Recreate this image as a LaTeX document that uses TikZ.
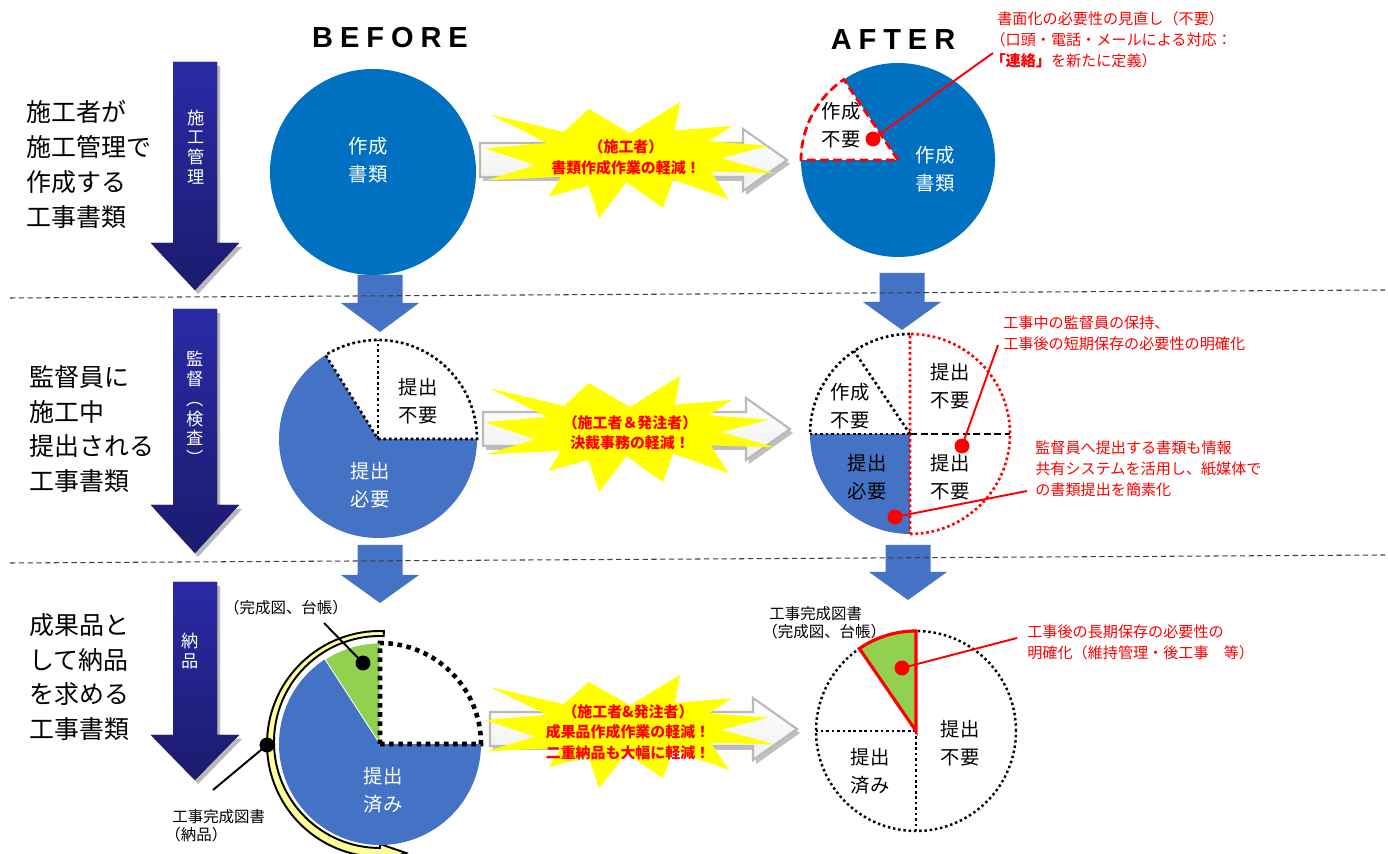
\documentclass[tikz,border=0pt]{standalone}
\usepackage{fontspec}
\setmainfont{Noto Sans CJK JP}
\newfontfamily\titlefont[LetterSpace=24]{Liberation Sans}
\usetikzlibrary{calc}

\definecolor{docblue}{HTML}{0070C0}
\definecolor{pieblue}{HTML}{4472C4}
\definecolor{piegreen}{HTML}{92D050}
\definecolor{navytop}{HTML}{2A2AA6}
\definecolor{navybot}{HTML}{1B1B6E}
\definecolor{ringyellow}{HTML}{FFFF99}
\definecolor{boomyellow}{HTML}{FFFF00}
\definecolor{notered}{HTML}{FF0000}

\newcommand\lpar{\kern-0.45em（}

\tikzset{
  sectionline/.style={black!75, line width=0.6pt, dash pattern=on 3pt off 2pt},
  titletext/.style={font=\titlefont\bfseries\fontsize{16.5}{16.5}\selectfont, inner sep=0pt},
  sidetext/.style={font=\fontsize{14.2}{19.8}\selectfont, align=left, anchor=west, inner sep=0pt},
  vtext/.style={font=\fontsize{9.8}{11.3}\selectfont, text=white, align=center, inner sep=0pt},
  pietext/.style={font=\fontsize{11}{15.8}\selectfont, align=center, inner sep=0pt},
  notetext/.style={font=\fontsize{8.6}{11.8}\selectfont, text=notered, align=left, anchor=west, inner sep=0pt},
  smalltext/.style={font=\fontsize{8.8}{10.4}\selectfont, align=left, inner sep=0pt},
  boomtext/.style={font=\bfseries\fontsize{8.5}{11.6}\selectfont, text=notered, align=center, inner sep=0pt},
  reddot/.style={circle, fill=notered, inner sep=0pt, minimum size=8.5pt},
  blackdot/.style={circle, fill=black, inner sep=0pt, minimum size=8.5pt},
  redline/.style={notered, line width=1.1pt},
  blackline/.style={black, line width=1.1pt},
  piedots/.style={black, line width=1.5pt, dash pattern=on 1.5pt off 1.6pt},
  reddots/.style={notered, line width=1.5pt, dash pattern=on 1.5pt off 1.6pt},
  bigdots/.style={black, line width=2.6pt, dash pattern=on 2.6pt off 2.6pt},
  boomshape/.pic={
    \fill[boomyellow] (50,26.9) -- (67.2,0) -- (65.5,24.7) -- (85.1,20.6) -- (77.3,33.9)
      -- (97.7,37.7) -- (81.5,48.5) -- (100,61.5) -- (77.9,59.9) -- (84.0,83.8)
      -- (64.9,66.9) -- (61.3,91.4) -- (48.8,69.1) -- (39.3,100) -- (35.7,72.3)
      -- (22.0,81.6) -- (26.2,64.5) -- (0.6,67.5) -- (17.2,54.5) -- (0,39.9)
      -- (21.4,35.3) -- (1.7,10.6) -- (27.2,25.8) -- (35.8,6.0) -- cycle;
  }
}

\begin{document}
\begin{tikzpicture}[x=0.02cm, y=0.02cm]
  \useasboundingbox[fill=white] (0,0) rectangle (1388,854);

  % headings
  \node[titletext] (before) at (390,816) {BEFORE};
  \node[titletext] (after) at (893,814) {AFTER};

  % left column
  \node[sidetext] (row1) at (26,689.5) {施工者が\\施工管理で\\作成する\\工事書類};
  \node[sidetext] (row2) at (29,425) {監督員に\\施工中\\提出される\\工事書類};
  \node[sidetext] (row3) at (29,177) {成果品と\\して納品\\を求める\\工事書類};

  \foreach \top/\base/\tip in {792/611/564, 545/349/301, 272/119/74} {
    \fill[gray!55] (198-22,\top-4) -- (198+22,\top-4) -- (198+22,\base-4) -- (198+44,\base-4)
      -- (198,\tip-4) -- (198-44,\base-4) -- (198-22,\base-4) -- cycle;
    \fill[top color=navytop, bottom color=navybot] (195-22,\top) -- (195+22,\top) -- (195+22,\base)
      -- (195+44,\base) -- (195,\tip) -- (195-44,\base) -- (195-22,\base) -- cycle;
  }
  \node[vtext] (stage1) at (196,707) {施\\工\\管\\理};
  \node[vtext] (stage2) at (195,446) {監\\督\\︵\\検\\査\\︶};
  \node[vtext] (stage3) at (190,203) {納\\品};

  % grey arrows and bursts
  \foreach \lx/\my/\hx/\tx in {480/694/743/787, 483/425/746/790, 490/125/753/797} {
    \fill[gray!50] (\lx+3,\my+13) -- (\hx+3,\my+13) -- (\hx+3,\my+27) -- (\tx+3,\my-4)
      -- (\hx+3,\my-35) -- (\hx+3,\my-21) -- (\lx+3,\my-21) -- cycle;
    \filldraw[top color=white, bottom color=gray!12, draw=gray!55, line width=1.2pt]
      (\lx,\my+17) -- (\hx,\my+17) -- (\hx,\my+31) -- (\tx,\my)
      -- (\hx,\my-31) -- (\hx,\my-17) -- (\lx,\my-17) -- cycle;
  }
  \pic[xscale=2.9, yscale=-1.16] at (485,752) {boomshape};
  \pic[xscale=2.9, yscale=-1.16] at (485,478) {boomshape};
  \pic[xscale=2.9, yscale=-1.13] at (485,179) {boomshape};
  \node[boomtext] (gain1) at (626,696.5) {（施工者）\\書類作成作業の軽減！};
  \node[boomtext] (gain2) at (630,421) {（施工者＆発注者）\\決裁事務の軽減！};
  \node[boomtext] (gain3) at (628,122) {（施工者\&発注者）\\成果品作成作業の軽減！\\二重納品も大幅に軽減！};

  % blue arrows between rows
  \foreach \x/\top/\base/\tip in {380/579/551/522, 902/581/552/524, 380/309/279/251, 908/309/282/254}
    \fill[pieblue] (\x-22.5,\top) -- (\x+22.5,\top) -- (\x+22.5,\base) -- (\x+39,\base)
      -- (\x,\tip) -- (\x-39,\base) -- (\x-22.5,\base) -- cycle;

  % row 1 pies
  \coordinate (p1) at (373,682);
  \fill[docblue] (p1) circle[radius=103];
  \node[pietext, text=white] (p1doc) at (368,694) {作成\\書類};

  \coordinate (p2) at (898,694);
  \fill[docblue] (p2) circle[radius=97];
  \filldraw[fill=white, draw=notered, line width=1.6pt, dash pattern=on 5pt off 2.5pt]
    (p2) -- ++(124:97) arc[start angle=124, end angle=180, radius=97] -- cycle;
  \node[pietext] (p2none) at (841,729) {作成\\不要};
  \node[pietext, text=white] (p2doc) at (935,685) {作成\\書類};
  \node[reddot] (dot1) at (873,715) {};
  \coordinate (note1end) at (993,801);
  \draw[redline] (dot1.center) -- (note1end);
  \node[notetext] (note1) at (997,814) {書面化の必要性の見直し（不要）\\\lpar 口頭・電話・メールによる対応：\\{\kern-0.45em\bfseries「連絡」}を新たに定義）};

  % row 2 pies
  \coordinate (p3) at (378,415);
  \fill[pieblue] (p3) circle[radius=99];
  \fill[white] (p3) -- ++(0:99) arc[start angle=0, end angle=122, radius=99] -- cycle;
  \draw[piedots] (p3) -- ++(0:99) arc[start angle=0, end angle=122, radius=99] -- cycle;
  \draw[piedots] (p3) -- ++(90:99);
  \node[pietext] (p3none) at (418,452.5) {提出\\不要};
  \node[pietext, text=white] (p3need) at (370,368.5) {提出\\必要};

  \coordinate (p4) at (910,420);
  \fill[pieblue] (p4) -- ++(180:100) arc[start angle=180, end angle=270, radius=100] -- cycle;
  \draw[piedots] (p4) ++(90:100) arc[start angle=90, end angle=180, radius=100];
  \draw[piedots] (p4) -- ++(124:100);
  \draw[piedots] (p4) -- ++(180:100);
  \draw[black, line width=1.2pt, dash pattern=on 4pt off 2pt] (p4) -- ++(0:100);
  \draw[reddots] (p4) ++(-90:100) arc[start angle=-90, end angle=90, radius=100] -- cycle;
  \node[pietext] (p4make) at (850,447.5) {作成\\不要};
  \node[pietext] (p4none) at (950,467.5) {提出\\不要};
  \node[pietext] (p4share) at (950,377) {提出\\不要};
  \node[pietext] (p4need) at (867,377) {提出\\必要};
  \node[reddot] (dot2) at (962,408) {};
  \node[reddot] (dot3) at (895,337) {};
  \coordinate (note2end) at (998,509);
  \coordinate (note3end) at (1027,363);
  \draw[redline] (dot2.center) -- (note2end);
  \draw[redline] (dot3.center) -- (note3end);
  \node[notetext] (note2) at (1003,521) {工事中の監督員の保持、\\工事後の短期保存の必要性の明確化};
  \node[notetext] (note3) at (1035,385) {監督員へ提出する書類も情報\\共有システムを活用し、紙媒体で\\の書類提出を簡素化};

  % row 3 pies
  \coordinate (p5) at (380,110);
  \filldraw[fill=ringyellow, draw=black, line width=1.1pt]
    (p5) ++(88:113) arc[start angle=88, end angle=270, radius=113]
    -- (380,-8) -- (406,1) -- (380,10) -- (380,6)
    arc[start angle=270, end angle=88, radius=106] -- cycle;
  \fill[pieblue] (p5) -- ++(123:101) arc[start angle=123, end angle=360, radius=101] -- cycle;
  \filldraw[fill=piegreen, draw=white, line width=0.5pt] (p5) -- ++(90:101) arc[start angle=90, end angle=123, radius=101] -- cycle;
  \draw[bigdots] (p5) -- ++(0:101) arc[start angle=0, end angle=90, radius=101] -- cycle;
  \node[pietext, text=white] (p5done) at (383,64) {提出\\済み};
  \node[blackdot] (dot4) at (363,191) {};
  \node[blackdot] (dot5) at (267,109) {};
  \coordinate (lab4end) at (324,231);
  \coordinate (lab5end) at (213,64);
  \draw[blackline] (dot4.center) -- (lab4end);
  \draw[blackline] (dot5.center) -- (lab5end);
  \node[smalltext] (lab4) at (286,246) {（完成図、台帳）};
  \node[smalltext, anchor=west] (lab5) at (172,28) {工事完成図書\\\lpar 納品）};

  \coordinate (p6) at (916,123);
  \draw[black, line width=1.4pt, dash pattern=on 1.4pt off 1.6pt] (p6) circle[radius=100];
  \draw[piedots] (p6) -- ++(270:100);
  \draw[piedots] (p6) -- ++(180:100);
  \filldraw[fill=piegreen, draw=notered, line width=1.8pt]
    (p6) -- ++(90:100) arc[start angle=90, end angle=124.5, radius=100] -- cycle;
  \node[pietext] (p6none) at (960,110.5) {提出\\不要};
  \node[pietext] (p6done) at (870,83) {提出\\済み};
  \node[reddot] (dot6) at (902,186) {};
  \coordinate (note4end) at (1017,216);
  \draw[redline] (dot6.center) -- (note4end);
  \node[notetext] (note4) at (1027,211.5) {工事後の長期保存の必要性の\\明確化（維持管理・後工事　等）};
  \node[smalltext, anchor=west] (lab6) at (769,231) {工事完成図書\\\lpar 完成図、台帳）};

  % section lines
  \draw[sectionline] (10,556) -- (1385,564);
  \draw[sectionline] (10,291) -- (1385,299);
\end{tikzpicture}
\end{document}
